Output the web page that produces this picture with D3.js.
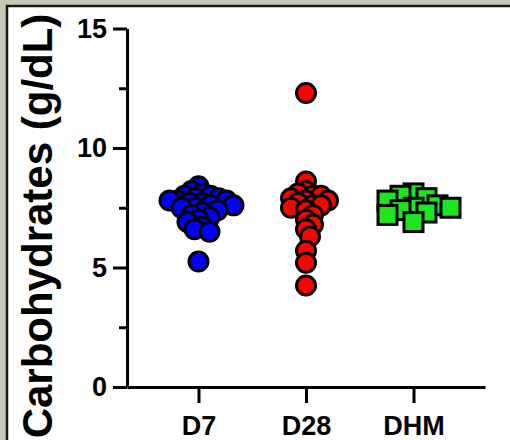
<!DOCTYPE html>
<html>
<head>
<meta charset="utf-8">
<script src="https://cdn.jsdelivr.net/npm/d3@7"></script>
<style>
  body { margin: 0; background: #c8c8b6; }
  svg { display: block; }
</style>
</head>
<body>
<svg id="chart" width="510" height="440"></svg>
<script>
var categories = ["D7", "D28", "DHM"];
var d7Values = [8.4, 8.2, 8.1, 8.0, 8.0, 7.9, 7.9, 7.8, 7.8, 7.8, 7.7, 7.7, 7.6, 7.6, 7.5, 7.5, 7.4, 7.3, 7.2, 7.1, 7.0, 6.9, 6.7, 6.6, 6.5, 5.25];
var d28Values = [12.3, 8.6, 8.2, 8.1, 8.0, 8.0, 7.9, 7.8, 7.8, 7.7, 7.6, 7.6, 7.5, 7.4, 7.2, 7.0, 6.8, 6.6, 6.3, 5.7, 5.2, 4.25];
var dhmValues = [8.1, 8.0, 7.9, 7.8, 7.6, 7.5, 7.5, 7.4, 7.3, 7.2, 6.9];
var yTicks = [0, 5, 10, 15];
var yMinorTicks = [2.5, 7.5, 12.5];
var yTitle = "Carbohydrates (g/dL)";

var groups = [
  {name: "D7", values: d7Values, color: "#0000ff", shape: "circle", spread: 8},
  {name: "D28", values: d28Values, color: "#ff0000", shape: "circle", spread: 8},
  {name: "DHM", values: dhmValues, color: "#1ee61e", shape: "square", spread: 13}
];

var svg = d3.select("#chart");

// frame
svg.append("rect").attr("x", 7).attr("y", 6).attr("width", 503).attr("height", 434).attr("fill", "#fff");
svg.append("path").attr("d", "M7,440V6H510").attr("fill", "none").attr("stroke", "#1a1a1a").attr("stroke-width", 2.5);

var x = d3.scalePoint().domain(categories).range([127, 485]).padding(0.665);
var y = d3.scaleLinear().domain([0, 15]).range([387, 28.5]);

var font = "'Liberation Sans', Arial, sans-serif";

// minor ticks
svg.append("g")
    .attr("transform", "translate(127,0)")
    .call(d3.axisLeft(y).tickValues(yMinorTicks).tickSize(8).tickFormat(""))
    .call(function(g) { g.select(".domain").remove(); })
    .selectAll("line").attr("stroke", "#000").attr("stroke-width", 3);

var yAxis = svg.append("g")
    .attr("transform", "translate(127,0)")
    .call(d3.axisLeft(y).tickValues(yTicks).tickSize(14).tickSizeOuter(0).tickPadding(6));
yAxis.select(".domain").attr("stroke", "#000").attr("stroke-width", 3);
yAxis.selectAll("line").attr("stroke", "#000").attr("stroke-width", 3);
yAxis.selectAll("text").attr("font-family", font).attr("font-weight", "bold").attr("font-size", 27).attr("fill", "#000");

var xAxis = svg.append("g")
    .attr("transform", "translate(0,387)")
    .call(d3.axisBottom(x).tickSize(16).tickSizeOuter(0).tickPadding(13));
xAxis.select(".domain").attr("stroke", "#000").attr("stroke-width", 3);
xAxis.selectAll("line").attr("stroke", "#000").attr("stroke-width", 3);
xAxis.selectAll("text").attr("font-family", font).attr("font-weight", "bold").attr("font-size", 27).attr("fill", "#000");

svg.append("text")
    .attr("transform", "translate(52," + 226 + ") rotate(-90)")
    .attr("text-anchor", "middle")
    .attr("font-family", font)
    .attr("font-weight", "bold")
    .attr("font-size", 42)
    .attr("fill", "#000")
    .text(yTitle);

// simple beeswarm offsets so points spread sideways like the original dot plot
function swarm(values, minDist) {
  var placed = [];
  values.forEach(function(v, i) {
    var py = y(v);
    for (var dx = 0; dx < 200; dx++) {
      var tries = (i % 2 === 0) ? [dx, -dx] : [-dx, dx];
      var found = null;
      for (var k = 0; k < tries.length; k++) {
        var ok = placed.every(function(p) {
          var ddx = p.dx - tries[k], ddy = p.py - py;
          return ddx * ddx + ddy * ddy >= minDist * minDist;
        });
        if (ok) { found = tries[k]; break; }
      }
      if (found !== null) { placed.push({value: v, dx: found, py: py}); break; }
    }
  });
  return placed;
}

groups.forEach(function(grp) {
  var pts = swarm(grp.values, grp.spread);
  var g = svg.append("g");
  if (grp.shape === "circle") {
    g.selectAll("circle").data(pts).enter().append("circle")
        .attr("cx", function(d) { return x(grp.name) + d.dx; })
        .attr("cy", function(d) { return d.py; })
        .attr("r", 9.5)
        .attr("fill", grp.color)
        .attr("stroke", "#000")
        .attr("stroke-width", 3);
  } else {
    g.selectAll("rect").data(pts).enter().append("rect")
        .attr("x", function(d) { return x(grp.name) + d.dx - 9.5; })
        .attr("y", function(d) { return d.py - 9.5; })
        .attr("width", 19)
        .attr("height", 19)
        .attr("fill", grp.color)
        .attr("stroke", "#000")
        .attr("stroke-width", 3);
  }
});
</script>
</body>
</html>
